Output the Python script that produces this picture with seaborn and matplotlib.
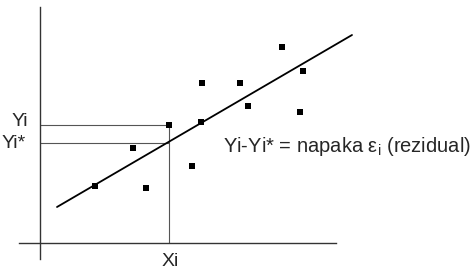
import matplotlib
matplotlib.use("Agg")
import matplotlib.pyplot as plt
import seaborn as sns
import pandas as pd

# data (diagram units)
pts_x = [5.5, 9.3, 10.6, 12.9, 15.2, 16.1, 16.2, 20.0, 20.8, 24.2, 26.0, 26.3]
pts_y = [5.7, 9.5, 5.5, 11.8, 7.7, 12.1, 16.0, 16.0, 13.7, 19.6, 13.1, 17.2]
line_x = [1.7, 31.2]
line_y = [3.6, 20.8]
xi_val = 12.9
yi_val = 11.8
yi_star = 10.0
label_yi = "Yi"
label_yistar = "Yi*"
label_xi = "Xi"
label_res = r"Yi-Yi* = napaka ε$_\mathregular{i}$ (rezidual)"

sns.set_style("white")
plt.rcParams['font.family'] = ['Liberation Sans', 'DejaVu Sans']
plt.rcParams['mathtext.fontset'] = 'custom'
plt.rcParams['mathtext.rm'] = 'Liberation Sans'

fig = plt.figure(figsize=(4.72, 2.73), dpi=100)
ax = fig.add_axes([0, 0, 1, 1])

df_pts = pd.DataFrame({"x": pts_x, "y": pts_y})
df_line = pd.DataFrame({"x": line_x, "y": line_y})

# guide lines
ax.plot([0, xi_val], [yi_val, yi_val], color="#555555", lw=0.8, zorder=1)
ax.plot([0, xi_val], [yi_star, yi_star], color="#555555", lw=0.8, zorder=1)
ax.plot([xi_val, xi_val], [0, yi_val], color="#555555", lw=0.8, zorder=1)

sns.lineplot(data=df_line, x="x", y="y", color="black", lw=1.3, ax=ax, zorder=2)
sns.scatterplot(data=df_pts, x="x", y="y", marker="s", s=14, color="black",
                edgecolor="none", ax=ax, zorder=3)

ax.set_xlim(-4.0, 43.2)
ax.set_ylim(-3.0, 24.3)

for s in ["top", "right"]:
    ax.spines[s].set_visible(False)
ax.spines["left"].set_position(("data", 0))
ax.spines["bottom"].set_position(("data", 0))
ax.spines["left"].set_bounds(-1.6, 23.6)
ax.spines["bottom"].set_bounds(-2.1, 29.6)
for s in ["left", "bottom"]:
    ax.spines[s].set_color("#333333")
    ax.spines[s].set_linewidth(1.0)
ax.set_xticks([])
ax.set_yticks([])
ax.set_xlabel("")
ax.set_ylabel("")
ax.patch.set_alpha(0)

fs = 14
ax.text(-2.8, 12.1, label_yi, ha="left", va="center", fontsize=fs)
ax.text(-3.8, 9.95, label_yistar, ha="left", va="center", fontsize=fs)
ax.text(xi_val + 0.1, -1.85, label_xi, ha="center", va="center", fontsize=fs)
ax.text(18.3, 9.7, label_res, ha="left", va="center", fontsize=14.5)

fig.savefig("out.png", dpi=100)
